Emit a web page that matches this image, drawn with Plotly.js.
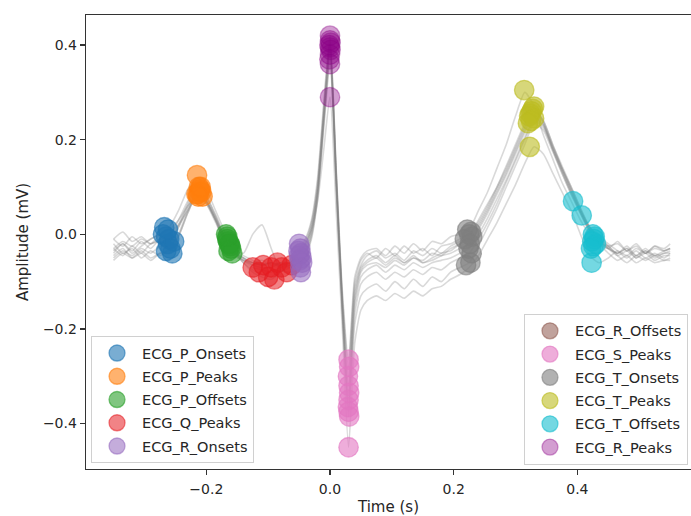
<!DOCTYPE html>
<html>
<head>
<meta charset="utf-8">
<script src="https://cdn.plot.ly/plotly-3.0.1.min.js"></script>
<style>
  html, body { margin: 0; padding: 0; background: #ffffff; }
  #chart { width: 691px; height: 516px; }
</style>
</head>
<body>
<div id="chart"></div>
<script>
// ---- time grid of the overlaid heartbeats (s) ----
const time = [-0.35,-0.335,-0.32,-0.305,-0.29,-0.275,-0.26,-0.245,-0.23,-0.215,-0.2,-0.185,-0.17,-0.155,-0.14,-0.125,-0.11,-0.095,-0.08,-0.065,-0.05,
  -0.04,-0.03,-0.02,-0.01,0,0.01,0.02,0.03,0.04,0.05,0.06,
  0.075,0.09,0.105,0.12,0.135,0.15,0.165,0.18,0.195,0.21,0.225,0.24,0.255,0.27,0.285,0.3,0.315,0.33,0.345,0.36,0.375,0.39,0.405,0.42,0.435,0.45,0.465,0.48,0.495,0.51,0.525,0.54,0.55];

// ---- heartbeat amplitudes (mV) ----
const beat1 = [-0.03,-0.015,-0.025,-0.01,-0.02,0.0,0.015,0.05,0.095,0.12,0.095,0.05,0.005,-0.03,-0.05,-0.065,-0.06,-0.07,-0.06,-0.055,-0.03,
  -0.01,0.03,0.12,0.28,0.42,0.14,-0.12,-0.265,-0.09,-0.05,-0.035,
  -0.03,-0.045,-0.025,-0.04,-0.02,-0.035,-0.015,-0.02,-0.005,0.0,0.01,0.05,0.09,0.14,0.19,0.25,0.30,0.27,0.21,0.16,0.11,0.07,0.03,0.0,-0.02,-0.03,-0.015,-0.035,-0.02,-0.04,-0.025,-0.03,-0.02];
const beat2 = [-0.04,-0.02,-0.035,-0.015,-0.03,-0.01,-0.005,0.03,0.07,0.1,0.08,0.04,-0.005,-0.035,-0.055,-0.07,-0.075,-0.08,-0.07,-0.06,-0.035,
  -0.015,0.025,0.11,0.27,0.41,0.135,-0.13,-0.28,-0.10,-0.055,-0.04,
  -0.05,-0.03,-0.045,-0.025,-0.04,-0.03,-0.045,-0.025,-0.02,-0.01,0.0,0.03,0.065,0.10,0.145,0.19,0.235,0.27,0.235,0.18,0.13,0.085,0.045,0.01,-0.015,-0.03,-0.04,-0.025,-0.045,-0.03,-0.045,-0.035,-0.03];
const beat3 = [-0.05,-0.035,-0.045,-0.03,-0.04,-0.025,-0.02,0.015,0.06,0.095,0.075,0.035,-0.01,-0.035,-0.05,-0.06,-0.065,-0.06,-0.065,-0.06,-0.04,
  -0.02,0.02,0.10,0.26,0.405,0.13,-0.14,-0.30,-0.11,-0.065,-0.045,
  -0.035,-0.05,-0.04,-0.055,-0.035,-0.045,-0.03,-0.04,-0.025,-0.015,0.0,0.025,0.06,0.10,0.14,0.185,0.23,0.265,0.24,0.19,0.14,0.095,0.05,0.015,-0.005,-0.025,-0.04,-0.03,-0.05,-0.035,-0.045,-0.04,-0.035];
const beat4 = [-0.02,-0.04,-0.03,-0.05,-0.035,-0.045,-0.03,0.0,0.05,0.09,0.07,0.03,-0.015,-0.04,-0.06,-0.075,-0.085,-0.09,-0.075,-0.065,-0.045,
  -0.025,0.015,0.10,0.255,0.40,0.125,-0.145,-0.32,-0.12,-0.07,-0.055,
  -0.045,-0.06,-0.045,-0.06,-0.05,-0.055,-0.04,-0.045,-0.03,-0.02,-0.005,0.02,0.055,0.095,0.135,0.18,0.225,0.26,0.24,0.19,0.145,0.10,0.055,0.015,-0.005,-0.02,-0.035,-0.05,-0.035,-0.05,-0.04,-0.05,-0.04];
const beat5 = [-0.055,-0.04,-0.05,-0.035,-0.05,-0.04,-0.04,-0.005,0.045,0.085,0.065,0.025,-0.015,-0.04,-0.055,-0.065,-0.07,-0.07,-0.06,-0.065,-0.05,
  -0.03,0.01,0.09,0.25,0.395,0.12,-0.15,-0.335,-0.13,-0.075,-0.06,
  -0.05,-0.065,-0.05,-0.06,-0.045,-0.06,-0.05,-0.04,-0.035,-0.02,-0.01,0.015,0.05,0.09,0.13,0.175,0.22,0.255,0.235,0.185,0.14,0.095,0.05,0.01,-0.01,-0.03,-0.045,-0.035,-0.05,-0.04,-0.055,-0.045,-0.045];
const beat6 = [-0.01,-0.025,-0.005,-0.02,-0.01,0.0,0.0,0.02,0.05,0.08,0.07,0.035,-0.01,-0.035,-0.06,-0.08,-0.09,-0.095,-0.08,-0.07,-0.055,
  -0.035,0.005,0.09,0.245,0.39,0.115,-0.155,-0.35,-0.14,-0.08,-0.065,
  -0.06,-0.07,-0.055,-0.065,-0.05,-0.06,-0.055,-0.045,-0.04,-0.03,-0.02,0.01,0.045,0.085,0.125,0.17,0.215,0.25,0.23,0.18,0.135,0.09,0.045,0.005,-0.015,-0.025,-0.02,-0.035,-0.025,-0.04,-0.03,-0.035,-0.03];
const beat7 = [-0.03,-0.045,-0.025,-0.04,-0.02,-0.015,-0.01,0.015,0.055,0.09,0.07,0.03,-0.02,-0.045,-0.055,-0.06,-0.055,-0.065,-0.06,-0.07,-0.06,
  -0.04,0.0,0.085,0.24,0.38,0.11,-0.16,-0.365,-0.15,-0.09,-0.075,
  -0.065,-0.08,-0.065,-0.075,-0.06,-0.07,-0.06,-0.055,-0.05,-0.04,-0.03,0.0,0.035,0.075,0.115,0.16,0.205,0.245,0.23,0.185,0.14,0.10,0.055,0.015,-0.01,-0.025,-0.045,-0.06,-0.045,-0.055,-0.045,-0.055,-0.05];
const beat8 = [-0.045,-0.03,-0.05,-0.04,-0.055,-0.04,-0.035,-0.005,0.045,0.085,0.07,0.03,-0.015,-0.04,-0.05,-0.06,-0.065,-0.06,-0.07,-0.065,-0.065,
  -0.045,-0.005,0.08,0.235,0.37,0.105,-0.165,-0.375,-0.17,-0.105,-0.09,
  -0.08,-0.095,-0.08,-0.09,-0.075,-0.085,-0.07,-0.075,-0.06,-0.05,-0.04,-0.01,0.025,0.065,0.11,0.155,0.2,0.24,0.225,0.18,0.135,0.09,0.05,0.01,-0.015,-0.03,-0.04,-0.03,-0.045,-0.035,-0.05,-0.04,-0.04];
const beat9 = [-0.01,0.005,-0.015,-0.005,-0.02,-0.01,-0.015,0.02,0.065,0.10,0.08,0.04,-0.005,-0.03,-0.04,0.0,0.02,-0.03,-0.075,-0.08,-0.075,
  -0.05,-0.01,0.075,0.225,0.36,0.10,-0.17,-0.385,-0.19,-0.13,-0.115,
  -0.105,-0.12,-0.1,-0.115,-0.095,-0.11,-0.09,-0.1,-0.08,-0.07,-0.06,-0.025,0.015,0.055,0.1,0.145,0.19,0.235,0.22,0.175,0.13,0.085,0.045,0.005,-0.02,-0.04,-0.055,-0.045,-0.06,-0.05,-0.06,-0.055,-0.055];
const beat10 = [-0.035,-0.02,-0.04,-0.025,-0.01,0.0,0.01,0.03,0.06,0.08,0.065,0.03,-0.005,-0.03,-0.045,-0.055,-0.065,-0.06,-0.065,-0.06,-0.04,
  -0.02,0.01,0.07,0.18,0.29,0.05,-0.2,-0.45,-0.23,-0.16,-0.14,
  -0.13,-0.14,-0.125,-0.135,-0.12,-0.13,-0.115,-0.11,-0.095,-0.085,-0.07,-0.045,-0.01,0.025,0.065,0.105,0.15,0.185,0.17,0.13,0.09,0.05,0.0,-0.045,-0.06,-0.05,-0.035,-0.045,-0.03,-0.04,-0.025,-0.035,-0.03];
const beats = [beat1, beat2, beat3, beat4, beat5, beat6, beat7, beat8, beat9, beat10];

// ---- delineated points (time s, amplitude mV) ----
const pOnsetsT  = [-0.268,-0.265,-0.262,-0.258,-0.255,-0.27,-0.26,-0.265,-0.252,-0.262];
const pOnsetsY  = [0.015,-0.005,-0.02,-0.03,-0.04,0.0,-0.01,-0.035,-0.015,0.01];
const pPeaksT   = [-0.215,-0.212,-0.21,-0.208,-0.214,-0.206,-0.211,-0.216,-0.209,-0.213];
const pPeaksY   = [0.125,0.1,0.095,0.09,0.085,0.08,0.09,0.085,0.1,0.08];
const pOffsetsT = [-0.168,-0.166,-0.165,-0.163,-0.161,-0.16,-0.164,-0.158,-0.162,-0.166];
const pOffsetsY = [0.0,-0.01,-0.015,-0.02,-0.025,-0.03,-0.035,-0.04,-0.02,-0.005];
const qPeaksT   = [-0.125,-0.115,-0.108,-0.1,-0.095,-0.09,-0.085,-0.078,-0.07,-0.062];
const qPeaksY   = [-0.07,-0.08,-0.065,-0.09,-0.07,-0.095,-0.06,-0.07,-0.08,-0.065];
const rOnsetsT  = [-0.05,-0.048,-0.047,-0.05,-0.046,-0.049,-0.045,-0.048,-0.047,-0.051];
const rOnsetsY  = [-0.02,-0.03,-0.04,-0.045,-0.05,-0.055,-0.06,-0.07,-0.08,-0.035];
const rOffsetsT = [null];   // no R offsets were delineated (legend entry only)
const rOffsetsY = [null];
const sPeaksT   = [0.03,0.031,0.029,0.03,0.031,0.03,0.029,0.03,0.031,0.03];
const sPeaksY   = [-0.265,-0.28,-0.30,-0.32,-0.335,-0.35,-0.365,-0.375,-0.385,-0.45];
const tOnsetsT  = [0.222,0.228,0.225,0.23,0.218,0.226,0.224,0.229,0.227,0.22];
const tOnsetsY  = [0.01,0.005,0.0,-0.005,-0.01,-0.02,-0.03,-0.04,-0.06,-0.065];
const tPeaksT   = [0.314,0.33,0.328,0.326,0.324,0.322,0.33,0.325,0.32,0.323];
const tPeaksY   = [0.305,0.27,0.265,0.26,0.255,0.25,0.245,0.24,0.235,0.185];
const tOffsetsT = [0.393,0.407,0.425,0.428,0.427,0.424,0.43,0.426,0.422,0.423];
const tOffsetsY = [0.07,0.04,0.0,-0.005,-0.01,-0.015,-0.02,-0.025,-0.03,-0.06];
const rPeaksT   = [0,0,0.001,-0.001,0,0.001,0,-0.001,0,0];
const rPeaksY   = [0.42,0.41,0.405,0.40,0.395,0.39,0.38,0.37,0.36,0.29];

const xTickVals = [-0.2, 0.0, 0.2, 0.4];
const xTickText = ['\u22120.2', '0.0', '0.2', '0.4'];
const yTickVals = [-0.4, -0.2, 0.0, 0.2, 0.4];
const yTickText = ['\u22120.4', '\u22120.2', '0.0', '0.2', '0.4'];

const FONT = 'DejaVu Sans, sans-serif';
const traces = [];

beats.forEach(function (b) {
  traces.push({
    type: 'scatter', mode: 'lines', x: time, y: b,
    line: { color: 'rgba(128,128,128,0.3)', width: 1.6, shape: 'spline', smoothing: 0.6 },
    hoverinfo: 'skip', showlegend: false
  });
});

function pts(name, xs, ys, rgb, alpha, legend) {
  const c = 'rgba(' + rgb + ',' + alpha + ')';
  return {
    type: 'scatter', mode: 'markers', name: name, x: xs, y: ys,
    legend: legend, legendgroup: name, showlegend: true,
    marker: { size: 19.5, color: c, line: { color: c, width: 1.3 } }
  };
}

traces.push(pts('ECG_P_Onsets',  pOnsetsT,  pOnsetsY,  '31,119,180', 0.6, 'legend'));
traces.push(pts('ECG_P_Peaks',   pPeaksT,   pPeaksY,   '255,127,14', 0.6, 'legend'));
traces.push(pts('ECG_P_Offsets', pOffsetsT, pOffsetsY, '44,160,44', 0.6, 'legend'));
traces.push(pts('ECG_Q_Peaks',   qPeaksT,   qPeaksY,   '230,30,35', 0.55, 'legend'));
traces.push(pts('ECG_R_Onsets',  rOnsetsT,  rOnsetsY,  '148,103,189', 0.55, 'legend'));
traces.push(pts('ECG_R_Offsets', rOffsetsT, rOffsetsY, '140,86,75', 0.55, 'legend2'));
traces.push(pts('ECG_S_Peaks',   sPeaksT,   sPeaksY,   '227,119,194', 0.6, 'legend2'));
traces.push(pts('ECG_T_Onsets',  tOnsetsT,  tOnsetsY,  '127,127,127', 0.6, 'legend2'));
traces.push(pts('ECG_T_Peaks',   tPeaksT,   tPeaksY,   '188,189,34', 0.6, 'legend2'));
traces.push(pts('ECG_T_Offsets', tOffsetsT, tOffsetsY, '23,190,207', 0.6, 'legend2'));
traces.push(pts('ECG_R_Peaks',   rPeaksT,   rPeaksY,   '140,0,135', 0.38, 'legend2'));

const legendStyle = {
  font: { family: FONT, size: 14.5, color: '#262626' },
  bgcolor: 'rgba(255,255,255,0.85)',
  bordercolor: '#d0d0d0', borderwidth: 1,
  itemwidth: 40, tracegroupgap: 1.4,
  itemclick: false, itemdoubleclick: false
};

const layout = {
  width: 691, height: 516,
  margin: { l: 86, r: 0, t: 15, b: 47 },
  paper_bgcolor: '#ffffff', plot_bgcolor: '#ffffff',
  font: { family: FONT, size: 14, color: '#262626' },
  xaxis: {
    range: [-0.3945, 0.5837],
    tickvals: xTickVals, ticktext: xTickText,
    ticks: 'outside', ticklen: 5, tickwidth: 1.2, tickcolor: '#333',
    showline: true, linecolor: '#333', linewidth: 1.3, mirror: true,
    showgrid: false, zeroline: false,
    tickfont: { family: FONT, size: 14, color: '#262626' },
    ticklabelstandoff: 2,
    title: { text: 'Time (s)', font: { family: FONT, size: 15, color: '#262626' }, standoff: 6 }
  },
  yaxis: {
    range: [-0.496, 0.4636],
    tickvals: yTickVals, ticktext: yTickText,
    ticks: 'outside', ticklen: 5, tickwidth: 1.2, tickcolor: '#333',
    showline: true, linecolor: '#333', linewidth: 1.3, mirror: false,
    showgrid: false, zeroline: false,
    tickfont: { family: FONT, size: 14, color: '#262626' },
    title: { text: 'Amplitude (mV)', font: { family: FONT, size: 15, color: '#262626' }, standoff: 10 }
  },
  legend: Object.assign({ x: 0.0083, y: 0.013, xanchor: 'left', yanchor: 'bottom' }, legendStyle),
  legend2: Object.assign({ x: 0.995, y: 0.009, xanchor: 'right', yanchor: 'bottom' }, legendStyle),
  showlegend: true
};

Plotly.newPlot('chart', traces, layout, { displayModeBar: false, staticPlot: true });
</script>
</body>
</html>
